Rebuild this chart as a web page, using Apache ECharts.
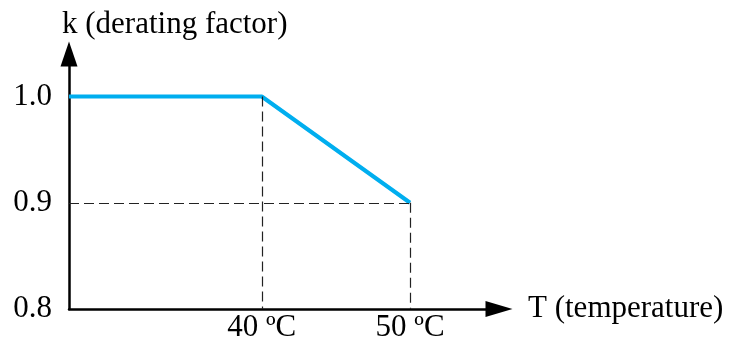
<!DOCTYPE html>
<html>

<head>
  <meta charset="UTF-8">
  <title>Derating factor vs temperature</title>
  <script type="text/javascript" src="https://cdn.jsdelivr.net/npm/echarts@6/dist/echarts.min.js"></script>
  <style>
    html, body { margin: 0; padding: 0; background: #fff; }
    #chart { width: 729px; height: 343px; }
  </style>
</head>

<body>
  <div id="chart"></div>
  <script type="text/javascript">
    // curve points (T in ºC, k)
    var temps = [27, 40, 50];
    var factors = [1.0, 1.0, 0.9];
    // tick labels
    var tempTicks = [40, 50];
    var factorTicks = [0.8, 0.9, 1.0];

    var font = 'Liberation Serif';
    var myChart = echarts.init(document.getElementById('chart'));

    var option = {
      animation: false,
      title: {
        text: 'k (derating factor)',
        left: 62,
        top: 9,
        padding: 0,
        textStyle: { fontFamily: font, fontSize: 31, fontWeight: 'normal', color: '#000' }
      },
      grid: { left: 69, right: 230, top: 54, bottom: 30 },
      xAxis: {
        type: 'value',
        min: 27,
        max: 56,
        name: 'T (temperature)',
        nameLocation: 'end',
        nameGap: 29,
        nameTextStyle: { fontFamily: font, fontSize: 31, color: '#000', verticalAlign: 'middle', padding: [0, 0, 6, 0] },
        axisLine: {
          show: true,
          symbol: ['none', 'triangle'],
          symbolSize: [16, 27],
          lineStyle: { color: '#000', width: 2.5 }
        },
        axisTick: { show: false },
        splitLine: { show: false },
        axisLabel: {
          customValues: tempTicks,
          formatter: '{value} ºC',
          margin: 3,
          fontFamily: font,
          fontSize: 31,
          color: '#000'
        }
      },
      yAxis: {
        type: 'value',
        min: 0.8,
        max: 1.04,
        axisLine: {
          show: true,
          symbol: ['none', 'triangle'],
          symbolSize: [17, 25],
          lineStyle: { color: '#000', width: 2.5 }
        },
        axisTick: { show: false },
        splitLine: { show: false },
        axisLabel: {
          customValues: factorTicks,
          formatter: function (v) { return v.toFixed(1); },
          margin: 17,
          fontFamily: font,
          fontSize: 31,
          color: '#000'
        }
      },
      series: [{
        type: 'line',
        data: temps.map(function (t, i) { return [t, factors[i]]; }),
        symbol: 'none',
        lineStyle: { color: '#00aeef', width: 4 },
        markLine: {
          silent: true,
          symbol: 'none',
          label: { show: false },
          lineStyle: { color: '#222', width: 1.2, type: [10, 5] },
          data: [
            [{ coord: [temps[1], factors[1]] }, { coord: [temps[1], factorTicks[0]] }],
            [{ coord: [temps[0], factors[2]] }, { coord: [temps[2], factors[2]] }],
            [{ coord: [temps[2], factors[2]] }, { coord: [temps[2], factorTicks[0]] }]
          ]
        }
      }]
    };

    myChart.setOption(option);
  </script>
</body>

</html>
